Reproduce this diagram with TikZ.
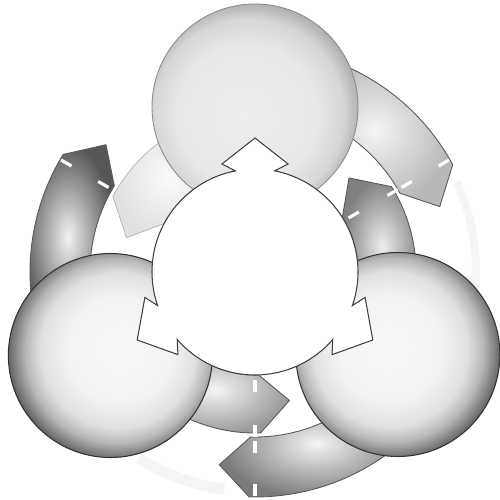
\documentclass[tikz,border=0pt]{standalone}
\pgfdeclareradialshading{sphL}{\pgfpoint{3bp}{2bp}}{color(0bp)=(black!3); color(13bp)=(black!5); color(19bp)=(black!12); color(22.5bp)=(black!28); color(26bp)=(black!56); color(29bp)=(black!86); color(50bp)=(black!92)}
\pgfdeclareradialshading{sphR}{\pgfpoint{-3bp}{2bp}}{color(0bp)=(black!3); color(13bp)=(black!5); color(19bp)=(black!12); color(22.5bp)=(black!28); color(26bp)=(black!56); color(29bp)=(black!86); color(50bp)=(black!92)}
\pgfdeclareradialshading{sphT}{\pgfpoint{-3bp}{-3bp}}{color(0bp)=(black!7); color(17bp)=(black!9); color(23bp)=(black!16); color(27bp)=(black!32); color(50bp)=(black!32)}
\tikzset{
  rim/.style={draw=black!80, line width=0.6pt},
  softrim/.style={draw=black!45, line width=0.5pt},
  arrowedge/.style={draw=black!65, line width=0.5pt},
  lightedge/.style={draw=black!30, line width=0.4pt},
  tickmark/.style={draw=white, line width=1.8pt},
  ghost/.style={fill=black!4},
  hole/.style={fill=white, draw=black!75, line width=0.6pt, line join=miter},
}
\begin{document}
\begin{tikzpicture}[x=0.2mm,y=0.2mm]
\useasboundingbox (-255,-228) rectangle (245,272);
\coordinate (C) at (0,0);
\coordinate (top) at (90:165);
\coordinate (left) at (210:167);
\coordinate (right) at (330:165);

% faint ghost parts of the outer ring
\fill[ghost] (-8:217) arc[start angle=-8,end angle=24,radius=217] -- (24:225) arc[start angle=24,end angle=-8,radius=225] -- cycle;
\fill[ghost] (238:214) arc[start angle=238,end angle=262,radius=214] -- (262:225) arc[start angle=262,end angle=238,radius=225] -- cycle;

% outer ring arrows (clockwise)
\shade[arrowedge, inner color=black!4, outer color=black!28] (75:225) arc[start angle=75,end angle=28.5,radius=225] -- (19.5:196) -- (28.5:165) arc[start angle=28.5,end angle=75,radius=165] -- cycle;
\shade[arrowedge, inner color=black!5, outer color=black!66] (195:225) arc[start angle=195,end angle=148.5,radius=225] -- (139.5:196) -- (148.5:165) arc[start angle=148.5,end angle=195,radius=165] -- cycle;
\shade[arrowedge, inner color=black!4, outer color=black!52] (315:225) arc[start angle=315,end angle=268.5,radius=225] -- (259.5:196) -- (268.5:165) arc[start angle=268.5,end angle=315,radius=165] -- cycle;

% inner ring arrows (counter-clockwise)
\shade[arrowedge, inner color=black!7, outer color=black!50] (-15:161) arc[start angle=-15,end angle=32,radius=161] -- (45:133) -- (32:103) arc[start angle=32,end angle=-15,radius=103] -- cycle;
\shade[lightedge, inner color=black!2, outer color=black!12] (105:161) arc[start angle=105,end angle=152,radius=161] -- (165:133) -- (152:103) arc[start angle=152,end angle=105,radius=103] -- cycle;
\shade[arrowedge, inner color=black!4, outer color=black!40] (225:161) arc[start angle=225,end angle=272,radius=161] -- (285:133) -- (272:103) arc[start angle=272,end angle=225,radius=103] -- cycle;

% the three spheres
\shade[shading=sphT] (top) circle (103);
\draw[softrim] (top) circle (103);
\shade[shading=sphL] (left) circle (102);
\draw[rim] (left) circle (102);
\shade[shading=sphR] (right) circle (102);
\draw[rim] (right) circle (102);

% central white region with three outward arrowheads
\path[hole] (101:103) arc[start angle=101,end angle=199,radius=103]
  -- (193:113) -- (210:136) -- (227:113) -- (221:103)
  arc[start angle=221,end angle=319,radius=103]
  -- (313:113) -- (330:136) -- (347:113) -- (341:103)
  arc[start angle=341,end angle=439,radius=103]
  -- (73:113) -- (90:134) -- (107:113) -- cycle;

% white ticks between the arrow pieces
\foreach \m in {30,270} {
  \draw[tickmark] (\m:108) -- (\m:120);
  \draw[tickmark] (\m:153) -- (\m:165);
}
\foreach \m in {30,150,270} {
  \draw[tickmark] (\m:169) -- (\m:181);
  \draw[tickmark] (\m:212) -- (\m:224);
}
\end{tikzpicture}
\end{document}
